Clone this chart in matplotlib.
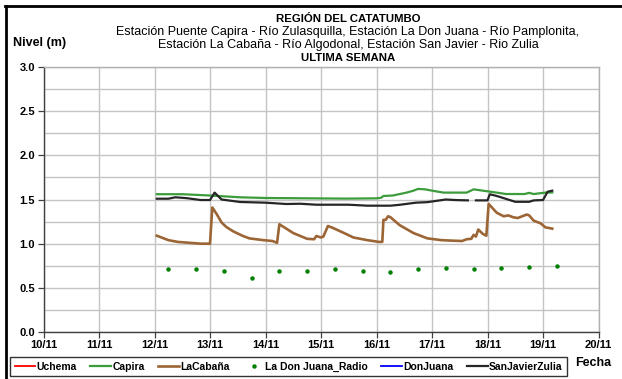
import matplotlib
matplotlib.use("Agg")
import matplotlib.pyplot as plt
import matplotlib.dates as mdates
from matplotlib.lines import Line2D
import pandas as pd
import numpy as np

plt.rcParams["font.family"] = ["Liberation Sans", "DejaVu Sans"]

# ---- data -------------------------------------------------------------
capira_t = ["2021-11-12 01:00", "2021-11-12 12:00", "2021-11-13 00:00", "2021-11-13 13:00",
            "2021-11-14 00:00", "2021-11-15 11:00", "2021-11-16 00:00", "2021-11-16 02:00",
            "2021-11-16 03:00", "2021-11-16 07:00", "2021-11-16 13:00", "2021-11-16 16:00",
            "2021-11-16 18:00", "2021-11-16 21:00", "2021-11-17 00:00", "2021-11-17 05:00",
            "2021-11-17 15:00", "2021-11-17 18:00", "2021-11-17 22:00", "2021-11-18 04:00",
            "2021-11-18 08:00", "2021-11-18 16:00", "2021-11-18 18:00", "2021-11-18 20:00",
            "2021-11-19 01:00", "2021-11-19 04:00"]
capira_v = [1.56, 1.56, 1.545, 1.525, 1.517, 1.51, 1.513, 1.52, 1.54, 1.545, 1.578, 1.60,
            1.62, 1.615, 1.60, 1.578, 1.578, 1.615, 1.60, 1.578, 1.562, 1.562, 1.575, 1.562,
            1.578, 1.58]

cabana_t = ["2021-11-12 01:00", "2021-11-12 06:00", "2021-11-12 10:00", "2021-11-12 15:00",
            "2021-11-12 20:00", "2021-11-13 00:00", "2021-11-13 01:00", "2021-11-13 03:00",
            "2021-11-13 05:00", "2021-11-13 07:00", "2021-11-13 10:00", "2021-11-13 14:00",
            "2021-11-13 17:00", "2021-11-13 23:00", "2021-11-14 03:00", "2021-11-14 05:00",
            "2021-11-14 06:00", "2021-11-14 12:00", "2021-11-14 18:00", "2021-11-14 21:00",
            "2021-11-14 22:00", "2021-11-15 00:00", "2021-11-15 01:00", "2021-11-15 03:00",
            "2021-11-15 05:00", "2021-11-15 10:00", "2021-11-15 14:00", "2021-11-15 20:00",
            "2021-11-16 01:00", "2021-11-16 02:30", "2021-11-16 03:00", "2021-11-16 04:00",
            "2021-11-16 05:00", "2021-11-16 06:00", "2021-11-16 10:00", "2021-11-16 16:00",
            "2021-11-16 22:00", "2021-11-17 04:00", "2021-11-17 08:00", "2021-11-17 13:00",
            "2021-11-17 15:00", "2021-11-17 17:00", "2021-11-17 18:00", "2021-11-17 19:00",
            "2021-11-17 20:00", "2021-11-17 22:00", "2021-11-17 23:30", "2021-11-18 00:30",
            "2021-11-18 04:00", "2021-11-18 07:00", "2021-11-18 09:00", "2021-11-18 11:00",
            "2021-11-18 13:00", "2021-11-18 17:00", "2021-11-18 18:00", "2021-11-18 20:00",
            "2021-11-18 23:00", "2021-11-19 01:00", "2021-11-19 04:00"]
cabana_v = [1.09, 1.04, 1.02, 1.01, 1.00, 1.00, 1.41, 1.33, 1.24, 1.19, 1.14, 1.09,
            1.06, 1.04, 1.03, 1.01, 1.22, 1.12, 1.055, 1.05, 1.087, 1.07, 1.08, 1.20,
            1.18, 1.12, 1.07, 1.04, 1.02, 1.02, 1.27, 1.27, 1.31, 1.30, 1.21, 1.12,
            1.06, 1.04, 1.035, 1.03, 1.05, 1.055, 1.10, 1.08, 1.16, 1.11, 1.09, 1.45,
            1.35, 1.31, 1.32, 1.30, 1.29, 1.33, 1.32, 1.26, 1.23, 1.185, 1.17]

zulia_t = ["2021-11-12 01:00", "2021-11-12 06:00", "2021-11-12 09:00", "2021-11-12 14:00",
           "2021-11-12 20:00", "2021-11-13 00:00", "2021-11-13 02:00", "2021-11-13 05:00",
           "2021-11-13 13:00", "2021-11-14 00:00", "2021-11-14 09:00", "2021-11-14 15:00",
           "2021-11-14 22:00", "2021-11-15 12:00", "2021-11-15 20:00", "2021-11-16 06:00",
           "2021-11-16 10:00", "2021-11-16 17:00", "2021-11-16 22:00", "2021-11-17 06:00",
           "2021-11-17 10:00", "2021-11-17 15:30", "2021-11-17 17:00", "2021-11-17 19:00",
           "2021-11-18 00:00", "2021-11-18 01:00", "2021-11-18 04:00", "2021-11-18 12:00",
           "2021-11-18 18:00", "2021-11-18 20:00", "2021-11-19 00:00", "2021-11-19 02:00",
           "2021-11-19 04:00"]
zulia_v = [1.509, 1.509, 1.525, 1.515, 1.494, 1.494, 1.578, 1.50, 1.472, 1.464, 1.449,
           1.452, 1.441, 1.441, 1.43, 1.43, 1.44, 1.464, 1.47, 1.50, 1.494, 1.49, np.nan,
           1.49, 1.49, 1.559, 1.54, 1.474, 1.474, 1.49, 1.494, 1.588, 1.60]

radio_t = ["2021-11-12 06:00", "2021-11-12 18:00", "2021-11-13 06:00", "2021-11-13 18:00",
           "2021-11-14 06:00", "2021-11-14 18:00", "2021-11-15 06:00", "2021-11-15 18:00",
           "2021-11-16 06:00", "2021-11-16 18:00", "2021-11-17 06:00", "2021-11-17 18:00",
           "2021-11-18 06:00", "2021-11-18 18:00", "2021-11-19 06:00"]
radio_v = [0.71, 0.71, 0.69, 0.615, 0.69, 0.69, 0.71, 0.69, 0.683, 0.71, 0.72, 0.71,
           0.72, 0.733, 0.75]

title_lines = ["REGIÓN DEL CATATUMBO",
               "Estación Puente Capira - Río Zulasquilla, Estación La Don Juana - Río Pamplonita,",
               "Estación La Cabaña - Río Algodonal, Estación San Javier - Rio Zulia",
               "ULTIMA SEMANA"]

# ---- figure -----------------------------------------------------------
W, H = 622, 379
fig = plt.figure(figsize=(W / 100, H / 100), dpi=100)
ax = fig.add_axes([43.5 / W, 1 - 332 / H, 555 / W, 265 / H])

ax.plot([], [], color="#ff0000", lw=1.3, label="Uchema")
ax.plot(pd.to_datetime(capira_t), capira_v, color="#3c9c3c", lw=1.6, label="Capira")
ax.plot(pd.to_datetime(cabana_t), cabana_v, color="#9c6535", lw=1.9, label="LaCabaña")
ax.plot(pd.to_datetime(radio_t), radio_v, ls="none", marker="o", ms=2.2,
        color="#008000", label="La Don Juana_Radio")
ax.plot([], [], color="#0000ff", lw=1.3, label="DonJuana")
ax.plot(pd.to_datetime(zulia_t), zulia_v, color="#262626", lw=1.6, label="SanJavierZulia")

ax.set_xlim(pd.Timestamp("2021-11-10"), pd.Timestamp("2021-11-20"))
ax.set_ylim(0, 3.0)
ax.xaxis.set_major_locator(mdates.DayLocator())
ax.xaxis.set_major_formatter(mdates.DateFormatter("%d/%m"))
ax.set_yticks(np.arange(0, 3.01, 0.5))
ax.set_yticks(np.arange(0, 3.01, 0.25), minor=True)
ax.yaxis.set_major_formatter(matplotlib.ticker.FormatStrFormatter("%.1f"))
ax.tick_params(axis="y", which="minor", length=0)
ax.tick_params(axis="both", which="major", length=4, width=0.9, direction="out",
               labelsize=8, pad=2, color="#404040")
for lab in ax.get_xticklabels() + ax.get_yticklabels():
    lab.set_fontweight("bold")

ax.grid(True, which="both", axis="y", color="#c4c4c4", lw=1.0)
ax.grid(True, which="major", axis="x", color="#c4c4c4", lw=1.0)
ax.set_axisbelow(True)
for side in ("top", "right"):
    ax.spines[side].set_color("#b0b0b0")
for side in ("left", "bottom"):
    ax.spines[side].set_color("#404040")
for sp in ax.spines.values():
    sp.set_linewidth(1.0)

# titles and axis captions
ys = [19, 32, 45, 58]
for i, (txt, y) in enumerate(zip(title_lines, ys)):
    bold = i in (0, 3)
    fig.text(348 / W, 1 - y / H, txt, ha="center", va="center",
             fontsize=8.2 if bold else 9,
             fontweight="bold" if bold else "normal")
fig.text(13 / W, 1 - 43 / H, "Nivel (m)", ha="left", va="center", fontsize=9,
         fontweight="bold")
fig.text(593 / W, 1 - 363 / H, "Fecha", ha="center", va="center", fontsize=9,
         fontweight="bold")

leg = fig.legend(loc="center", bbox_to_anchor=(288.5 / W, 1 - 366.7 / H), ncol=6,
                 frameon=True, fancybox=False, handlelength=2.0,
                 handletextpad=0.1, columnspacing=1.3, borderpad=0.4,
                 prop={"weight": "bold", "size": 7.5})
leg.get_frame().set_edgecolor("black")
leg.get_frame().set_linewidth(1.0)

# outer frame (top and left edges)
fig.add_artist(Line2D([5 / W, 1], [1 - 6 / H, 1 - 6 / H], color="black", lw=2.0,
                      transform=fig.transFigure))
fig.add_artist(Line2D([6 / W, 6 / W], [0, 1 - 6 / H], color="black", lw=2.0,
                      transform=fig.transFigure))

fig.savefig("out.png", dpi=100)
